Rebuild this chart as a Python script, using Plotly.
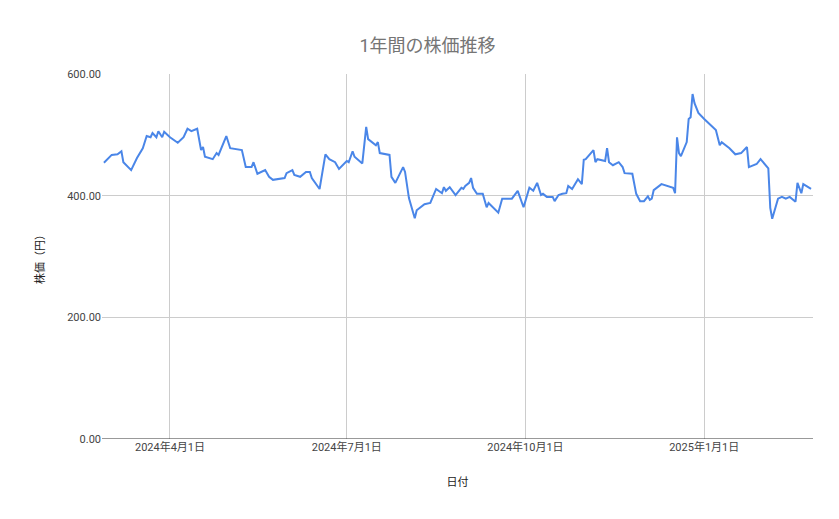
import pandas as pd
import plotly.graph_objects as go

start_date = "2024-02-26"
day_offsets = [
    1, 3, 5, 8, 10, 11, 15, 18, 21, 23, 25, 26, 28, 29, 31, 32, 35, 39, 42, 44,
    46, 49, 51, 52, 53, 57, 59, 60, 64, 66, 72, 74, 77, 78, 80, 84, 86, 88, 93, 94,
    95, 98, 99, 102, 105, 107, 108, 112, 115, 117, 120, 122, 126, 127, 129, 130, 134, 136, 137, 141,
    142, 143, 148, 149, 151, 155, 156, 158, 161, 162, 166, 169, 172, 175, 176, 177, 179, 182, 185, 186,
    187, 189, 190, 191, 193, 196, 198, 199, 204, 206, 211, 214, 217, 220, 222, 224, 226, 227, 229, 232,
    233, 235, 237, 239, 240, 242, 245, 247, 248, 249, 253, 254, 255, 259, 260, 261, 263, 266, 268, 269,
    273, 275, 277, 279, 281, 282, 283, 284, 288, 294, 295, 296, 297, 298, 301, 302, 303, 304, 305, 307,
    310, 316, 318, 319, 323, 326, 329, 332, 333, 337, 339, 343, 344, 345, 348, 350, 352, 354, 357, 358,
    360, 361, 365,
]
prices = [
    454, 460, 467, 468, 473, 455, 442, 462, 478, 498, 496, 503, 496, 506, 496, 505, 496, 487, 496, 510,
    506, 510, 475, 480, 464, 460, 470, 467, 498, 478, 475, 447, 447, 455, 436, 442, 431, 426, 429, 429,
    437, 442, 434, 431, 439, 439, 429, 411, 468, 460, 455, 444, 457, 455, 473, 464, 453, 513, 493, 483,
    488, 470, 467, 431, 421, 447, 439, 396, 363, 376, 386, 388, 411, 404, 414, 408, 414, 401, 413, 411,
    416, 421, 429, 413, 403, 403, 381, 388, 372, 395, 395, 408, 381, 413, 408, 421, 401, 403, 398, 398,
    391, 401, 403, 404, 416, 411, 427, 419, 459, 460, 475, 455, 460, 457, 478, 455, 450, 455, 447, 437,
    436, 403, 391, 391, 399, 393, 395, 409, 419, 413, 404, 496, 470, 465, 488, 526, 529, 567, 552, 536,
    526, 508, 483, 488, 478, 468, 470, 480, 447, 452, 460, 445, 380, 362, 395, 398, 395, 398, 390, 421,
    404, 419, 411,
]

dates = pd.Timestamp(start_date) + pd.to_timedelta(day_offsets, unit="D")
tick_dates = ["2024-04-01", "2024-07-01", "2024-10-01", "2025-01-01"]

fig = go.Figure()
fig.add_trace(
    go.Scatter(
        x=dates,
        y=prices,
        mode="lines",
        line={"color": "#4a86e8", "width": 2},
        showlegend=False,
    )
)
fig.update_layout(
    width=839,
    height=519,
    title=dict(text="1年間の株価推移", x=0.5, y=0.94, xanchor="center",
               font=dict(size=18, color="#757575")),
    font=dict(family="Roboto, Noto Sans CJK JP", color="#444444", size=11),
    template="plotly_white",
    plot_bgcolor="white",
    margin=dict(l=94, r=34, t=66, b=88),
    xaxis=dict(
        title=dict(text="日付", font=dict(size=11, color="#222222"), standoff=25),
        range=["2024-02-26", "2025-02-26"],
        tickvals=tick_dates,
        tickformat="%Y年%-m月%-d日",
        showgrid=True,
        gridcolor="#cccccc",
        showline=False,
        zeroline=False,
    ),
    yaxis=dict(
        title=dict(text="株価（円）", font=dict(size=11, color="#222222"), standoff=20),
        range=[0, 600],
        tickvals=[0, 200, 400, 600],
        tickformat=",.2f",
        gridcolor="#cccccc",
        zeroline=False,
        showline=False,
    ),
)
fig.add_shape(type="line", xref="paper", yref="y", x0=0, x1=1, y0=0, y1=0,
              line=dict(color="#333333", width=1))

fig.write_html("out.html")
